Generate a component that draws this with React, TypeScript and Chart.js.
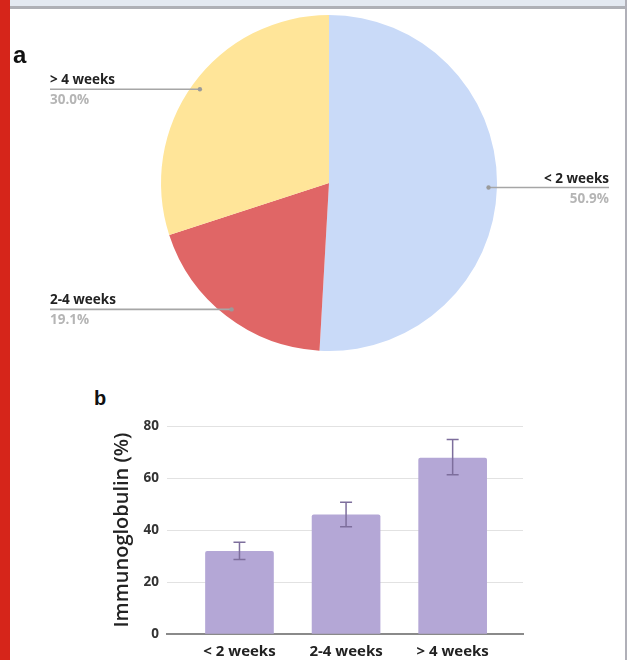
import React, { useEffect, useRef } from "react";
import { Chart, registerables } from "chart.js";

Chart.register(...registerables);

// ---------- data ----------
const pieLabels = ["< 2 weeks", "2-4 weeks", "> 4 weeks"];
const pieValues = [50.9, 19.1, 30.0];
const pieColors = ["#c9daf8", "#e06666", "#ffe599"];

const barCategories = ["< 2 weeks", "2-4 weeks", "> 4 weeks"];
const barValues = [31.8, 45.9, 67.7];
const errorLow = [28.7, 41.3, 61.3];
const errorHigh = [35.3, 50.7, 74.8];
const yTicks = [0, 20, 40, 60, 80];

const FONT = "'Open Sans', Roboto, 'Liberation Sans', Arial, sans-serif";

const pieLabelPlugin = {
  id: "pieLabels",
  afterDraw(chart: any) {
    const ctx = chart.ctx;
    const meta = chart.getDatasetMeta(0);
    ctx.save();
    meta.data.forEach((arc: any, i: number) => {
      const p = arc.getProps(["x", "y", "startAngle", "endAngle", "outerRadius"], true);
      const mid = (p.startAngle + p.endAngle) / 2;
      const px = p.x + Math.cos(mid) * p.outerRadius * 0.95;
      const py = p.y + Math.sin(mid) * p.outerRadius * 0.95;
      const right = Math.cos(mid) > 0;
      const endX = right ? chart.width - 16 : 40;
      ctx.strokeStyle = "#a6a6a6";
      ctx.lineWidth = 1.6;
      ctx.beginPath();
      ctx.moveTo(px, py);
      ctx.lineTo(endX, py);
      ctx.stroke();
      ctx.fillStyle = "#9a9a9a";
      ctx.beginPath();
      ctx.arc(px, py, 2.2, 0, Math.PI * 2);
      ctx.fill();
      ctx.textAlign = right ? "right" : "left";
      ctx.textBaseline = "alphabetic";
      ctx.font = `bold 13.5px ${FONT}`;
      ctx.fillStyle = "#222222";
      ctx.fillText(pieLabels[i], endX, py - 5);
      ctx.fillStyle = "#b5b5b5";
      ctx.fillText(pieValues[i].toFixed(1) + "%", endX, py + 15);
    });
    ctx.restore();
  },
};

const errorBarPlugin = {
  id: "errorBars",
  afterDatasetsDraw(chart: any) {
    const ctx = chart.ctx;
    const meta = chart.getDatasetMeta(0);
    const yScale = chart.scales.y;
    ctx.save();
    ctx.strokeStyle = "#7d6e9c";
    ctx.lineWidth = 1.5;
    meta.data.forEach((bar: any, i: number) => {
      const x = bar.x;
      const yh = yScale.getPixelForValue(errorHigh[i]);
      const yl = yScale.getPixelForValue(errorLow[i]);
      ctx.beginPath();
      ctx.moveTo(x, yh);
      ctx.lineTo(x, yl);
      ctx.moveTo(x - 6, yh);
      ctx.lineTo(x + 6, yh);
      ctx.moveTo(x - 6, yl);
      ctx.lineTo(x + 6, yl);
      ctx.stroke();
    });
    ctx.restore();
  },
};

function PieChart() {
  const ref = useRef<HTMLCanvasElement>(null);
  useEffect(() => {
    if (!ref.current) return;
    const chart = new Chart(ref.current, {
      type: "pie",
      data: {
        labels: pieLabels,
        datasets: [
          {
            data: pieValues,
            backgroundColor: pieColors,
            borderWidth: 0,
          },
        ],
      },
      options: {
        animation: false,
        responsive: false,
        maintainAspectRatio: false,
        layout: { padding: { left: 151, right: 128, top: 6, bottom: 18 } },
        plugins: { legend: { display: false }, tooltip: { enabled: false } },
      },
      plugins: [pieLabelPlugin],
    } as any);
    return () => chart.destroy();
  }, []);
  return (
    <canvas
      ref={ref}
      width={615}
      height={360}
      style={{ position: "absolute", left: 10, top: 9, width: 615, height: 360 }}
    />
  );
}

function BarChart() {
  const ref = useRef<HTMLCanvasElement>(null);
  useEffect(() => {
    if (!ref.current) return;
    const chart = new Chart(ref.current, {
      type: "bar",
      data: {
        datasets: [
          {
            data: barValues.map((v, i) => ({ x: i, y: v })),
            backgroundColor: "#b4a7d6",
            borderWidth: 0,
            borderRadius: { topLeft: 2, topRight: 2, bottomLeft: 0, bottomRight: 0 },
            borderSkipped: "bottom",
            barThickness: 68,
          },
        ],
      },
      options: {
        animation: false,
        responsive: false,
        maintainAspectRatio: false,
        layout: { padding: { left: 0, right: 37, top: 13, bottom: 0 } },
        plugins: { legend: { display: false }, tooltip: { enabled: false } },
        scales: {
          x: {
            type: "linear",
            offset: false,
            min: -0.68,
            max: 2.66,
            afterBuildTicks: (scale: any) => {
              scale.ticks = barCategories.map((_, i) => ({ value: i }));
            },
            afterFit: (scale: any) => {
              scale.height = 26;
            },
            grid: { display: false, drawTicks: false },
            border: { display: true, color: "#8a8a8a", width: 2 },
            ticks: {
              autoSkip: false,
              maxRotation: 0,
              padding: 9,
              color: "#222222",
              font: { family: FONT, size: 15, weight: "bold" },
              callback: (v: any) => barCategories[v] ?? "",
            },
          },
          y: {
            min: 0,
            max: 80,
            afterBuildTicks: (scale: any) => {
              scale.ticks = yTicks.map((v) => ({ value: v }));
            },
            afterFit: (scale: any) => {
              scale.width = 67;
            },
            grid: { color: "#e2e2e2", lineWidth: 1, drawTicks: false },
            border: { display: false },
            ticks: {
              padding: 8,
              color: "#333333",
              font: { family: FONT, size: 13.5, weight: "bold" },
            },
            title: {
              display: true,
              text: "Immunoglobulin (%)",
              color: "#222222",
              font: { family: FONT, size: 20, weight: "600" },
              padding: { top: 10, bottom: 0 },
            },
          },
        },
      },
      plugins: [errorBarPlugin],
    } as any);
    return () => chart.destroy();
  }, []);
  return (
    <canvas
      ref={ref}
      width={460}
      height={250}
      style={{ position: "absolute", left: 100, top: 410, width: 460, height: 250 }}
    />
  );
}

export default function App() {
  return (
    <div
      style={{
        position: "absolute",
        left: 0,
        top: 0,
        width: 627,
        height: 660,
        overflow: "hidden",
        background: "#ffffff",
      }}
    >
      <div style={{ position: "absolute", left: 10, top: 0, width: 617, height: 6, background: "#e3e9f1" }} />
      <div style={{ position: "absolute", left: 10, top: 6, width: 617, height: 3, background: "#aeb0b6" }} />
      <div style={{ position: "absolute", left: 625, top: 0, width: 2, height: 660, background: "#b0b0b8" }} />
      <div style={{ position: "absolute", left: 0, top: 0, width: 10, height: 660, background: "#d6251a" }} />
      <PieChart />
      <BarChart />
      <div
        style={{
          position: "absolute",
          left: 13,
          top: 43,
          fontFamily: "'Liberation Sans', Arial, sans-serif",
          fontWeight: "bold",
          fontSize: 24,
          lineHeight: 1,
          color: "#111",
        }}
      >
        a
      </div>
      <div
        style={{
          position: "absolute",
          left: 94,
          top: 388,
          fontFamily: "'Liberation Sans', Arial, sans-serif",
          fontWeight: "bold",
          fontSize: 20,
          lineHeight: 1,
          color: "#111",
        }}
      >
        b
      </div>
    </div>
  );
}
